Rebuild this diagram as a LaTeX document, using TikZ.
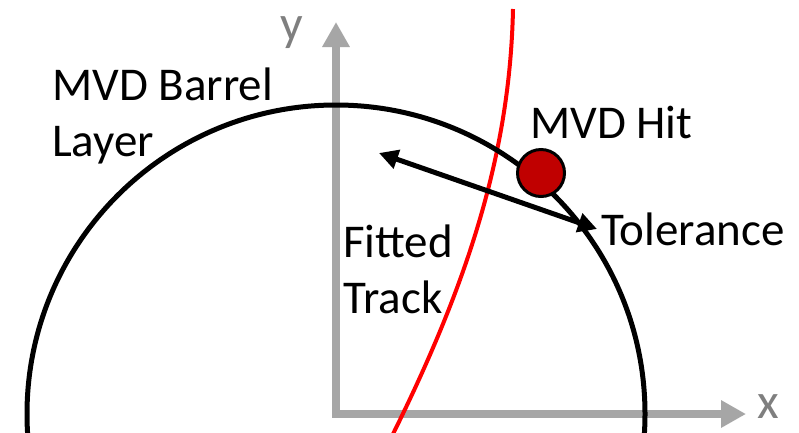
\documentclass[tikz,border=0pt]{standalone}
\usepackage{fontspec}
\setmainfont{Carlito}
\usetikzlibrary{arrows.meta}
\definecolor{axisgray}{HTML}{A6A6A6}
\definecolor{labelgray}{HTML}{7F7F7F}
\definecolor{hitred}{HTML}{C00000}
\begin{document}
\begin{tikzpicture}[x=1pt,y=-1pt,
  axisline/.style={draw=axisgray, line width=8pt, line join=miter,
    {Triangle[length=25pt,width=26pt]}-{Triangle[length=25pt,width=26pt]}},
  axislabel/.style={text=labelgray, inner sep=0pt, anchor=base west, font=\fontsize{50}{56}\selectfont},
  label/.style={inner sep=0pt, anchor=base west, align=left, font=\fontsize{47}{56}\selectfont},
  layer/.style={draw=black, line width=5pt},
  track/.style={draw=red, line width=4pt},
  tolarrow/.style={draw=black, line width=5pt,
    {Triangle[length=19pt,width=19pt]}-{Triangle[length=19pt,width=19pt]}},
  hitdot/.style={circle, draw=black, line width=3pt, fill=hitred, minimum size=47pt, inner sep=0pt}
]
\useasboundingbox (0,0) rectangle (799,432);
\clip (0,0) rectangle (799,432);
\fill[white] (0,0) rectangle (799,432);

\coordinate (O) at (336,414);
\coordinate (ytip) at (336,22);
\coordinate (xtip) at (746,414);
\coordinate (trackTop) at (513,9);
\coordinate (trackBot) at (390,440);
\coordinate (tolL) at (379,153);
\coordinate (tolR) at (597,229);

% axes
\draw[axisline] (ytip) -- (O) -- (xtip);
\node[axislabel] (ylab) at (280,40) {y};
\node[axislabel] (xlab) at (757,418) {x};

% fitted track
\draw[track] (trackTop) .. controls (510,150) and (470,280) .. (trackBot);

% barrel layer
\draw[layer] (O) circle[radius=309pt];

% tolerance arrow
\draw[tolarrow] (tolL) -- (tolR);

% MVD hit
\node[hitdot] (hit) at (541,173) {};

% labels
\node[label] (barrel) at (52,156) {MVD Barrel\\Layer};
\node[label] (hitlab) at (530,138) {MVD Hit};
\node[label] (tollab) at (601,245) {Tolerance};
\node[label] (fitted) at (343,313) {Fitted\\Track};
\end{tikzpicture}
\end{document}
